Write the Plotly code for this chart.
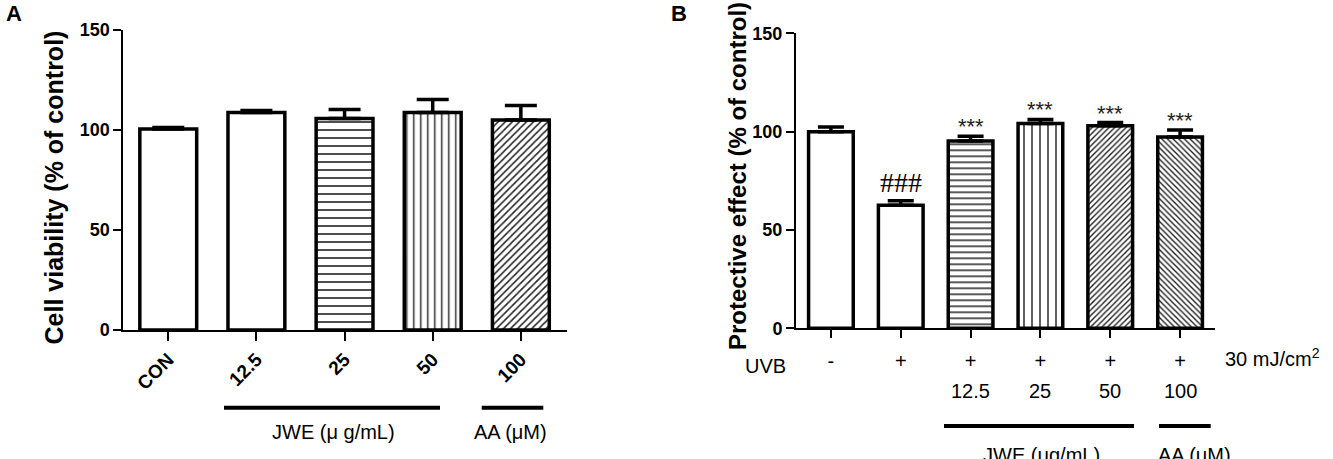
import plotly.graph_objects as go

W, H = 1333, 459

# ---------------- data ----------------
# Panel A: cell viability
a_labels = ["CON", "12.5", "25", "50", "100"]
a_values = [100.5, 108.7, 105.8, 108.8, 105.0]
a_err = [0.8, 1.1, 4.5, 6.5, 7.3]
a_shapes = ["", "", "-", "|", "/"]

# Panel B: protective effect
b_uvb = ["-", "+", "+", "+", "+", "+"]
b_conc = ["", "", "12.5", "25", "50", "100"]
b_values = [100.0, 62.6, 95.2, 104.1, 103.0, 97.3]
b_err = [2.3, 2.2, 2.4, 2.1, 1.6, 3.5]
b_marks = ["", "###", "***", "***", "***", "***"]
b_shapes = ["", "", "-", "|", "/", "\\"]

# ---------------- helpers ----------------
def px(x):
    return x / W

def py(y):
    return 1 - y / H

SANS = "Liberation Sans, Arial, sans-serif"

fig = go.Figure()

fig.add_trace(go.Bar(
    x=list(range(len(a_values))), y=a_values, width=0.645,
    marker=dict(color="white", line=dict(color="black", width=3.5),
                pattern=dict(shape=a_shapes, size=[8, 8, 8, 7, 5],
                             solidity=[0.2, 0.2, 0.2, 0.2, 0.3],
                             fgcolor="#222", bgcolor="white")),
    error_y=dict(type="data", symmetric=False, array=a_err,
                 arrayminus=[0] * len(a_err), thickness=3.5, width=16, color="black"),
    xaxis="x", yaxis="y", showlegend=False, hoverinfo="skip"))

fig.add_trace(go.Bar(
    x=list(range(len(b_values))), y=b_values, width=0.64,
    marker=dict(color="white", line=dict(color="black", width=3.5),
                pattern=dict(shape=b_shapes, size=[6, 6, 6, 8, 4, 4],
                             solidity=[0.25, 0.25, 0.25, 0.18, 0.35, 0.35],
                             fgcolor="#222", bgcolor="white")),
    error_y=dict(type="data", symmetric=False, array=b_err,
                 arrayminus=[0] * len(b_err), thickness=3.5, width=13, color="black"),
    xaxis="x2", yaxis="y2", showlegend=False, hoverinfo="skip"))

axis_common = dict(showline=True, linecolor="black", linewidth=2, ticks="outside",
                   tickcolor="black", tickwidth=2, showgrid=False, zeroline=False,
                   automargin=False)

fig.update_layout(
    template="none",
    width=W, height=H, margin=dict(l=0, r=0, t=0, b=0, pad=0, autoexpand=False),
    paper_bgcolor="white", plot_bgcolor="white",
    xaxis=dict(domain=[px(123.3), px(566.7)], range=[-0.51, 4.52], anchor="y",
               tickmode="array", tickvals=list(range(len(a_labels))), ticktext=a_labels,
               tickangle=-45, ticklen=9,
               tickfont=dict(family=SANS, size=19, color="black", weight="bold"),
               **axis_common),
    yaxis=dict(domain=[py(330), py(30)], range=[0, 150], anchor="x",
               tickvals=[0, 50, 100, 150], ticklen=8,
               tickfont=dict(family=SANS, size=18, color="black", weight="bold"),
               **axis_common),
    xaxis2=dict(domain=[px(796), px(1215)], range=[-0.5, 5.5], anchor="y2",
                tickmode="array", tickvals=list(range(len(b_uvb))), ticktext=b_uvb,
                tickangle=0, ticklen=8, ticklabelstandoff=6,
                tickfont=dict(family=SANS, size=20, color="black"),
                **axis_common),
    yaxis2=dict(domain=[py(328.3), py(33.3)], range=[0, 150], anchor="x2",
                tickvals=[0, 50, 100, 150], ticklen=8,
                tickfont=dict(family=SANS, size=18, color="black", weight="bold"),
                **axis_common),
)

ann = []

def add_text(text, x, y, size=20, xref="paper", yref="paper", xanchor="center",
             yanchor="middle", family=SANS, angle=0, yshift=0, color="black"):
    ann.append(dict(text=text, x=x, y=y, xref=xref, yref=yref, xanchor=xanchor,
                    yanchor=yanchor, textangle=angle, yshift=yshift, showarrow=False,
                    font=dict(family=family, size=size, color=color)))

# panel letters
add_text("<b>A</b>", px(14), py(14), size=22)
add_text("<b>B</b>", px(679), py(13), size=22)
# y titles
add_text("<b>Cell viability (% of control)</b>", px(53), py(187.5), size=25, angle=-90)
add_text("<b>Protective effect (% of control)</b>", px(737), py(176), size=24, angle=-90)
# group labels panel A
add_text("JWE (μ g/mL)", px(333.5), py(432))
add_text("AA (μM)", px(510.8), py(432))
# panel B rows
add_text("UVB", px(765), py(366))
add_text("30 mJ/cm<sup>2</sup>", px(1223), py(357), xanchor="left")
for i, c in enumerate(b_conc):
    if c:
        add_text(c, i, py(391), xref="x2")
add_text("JWE (μg/mL)", px(1041.7), py(442), yanchor="top")
add_text("AA (μM)", px(1194), py(442), yanchor="top")
# significance marks
for i, m in enumerate(b_marks):
    if not m:
        continue
    if m.startswith("#"):
        add_text(m, i, b_values[i] + b_err[i], size=28, xref="x2", yref="y2",
                 yanchor="bottom", yshift=1,
                 family="Liberation Serif, Times New Roman, serif")
    else:
        add_text(m, i, b_values[i] + b_err[i], size=22, xref="x2", yref="y2",
                 yanchor="bottom", yshift=-5, color="#222")

shapes = []
for (x0, x1, yy) in [(224, 440, 407.7), (481.7, 543.3, 407.7), (944, 1134, 426), (1159, 1210.7, 426)]:
    shapes.append(dict(type="line", xref="paper", yref="paper", x0=px(x0), x1=px(x1),
                       y0=py(yy), y1=py(yy), line=dict(color="black", width=4)))

fig.update_layout(annotations=ann, shapes=shapes)
fig.write_html("out.html")
